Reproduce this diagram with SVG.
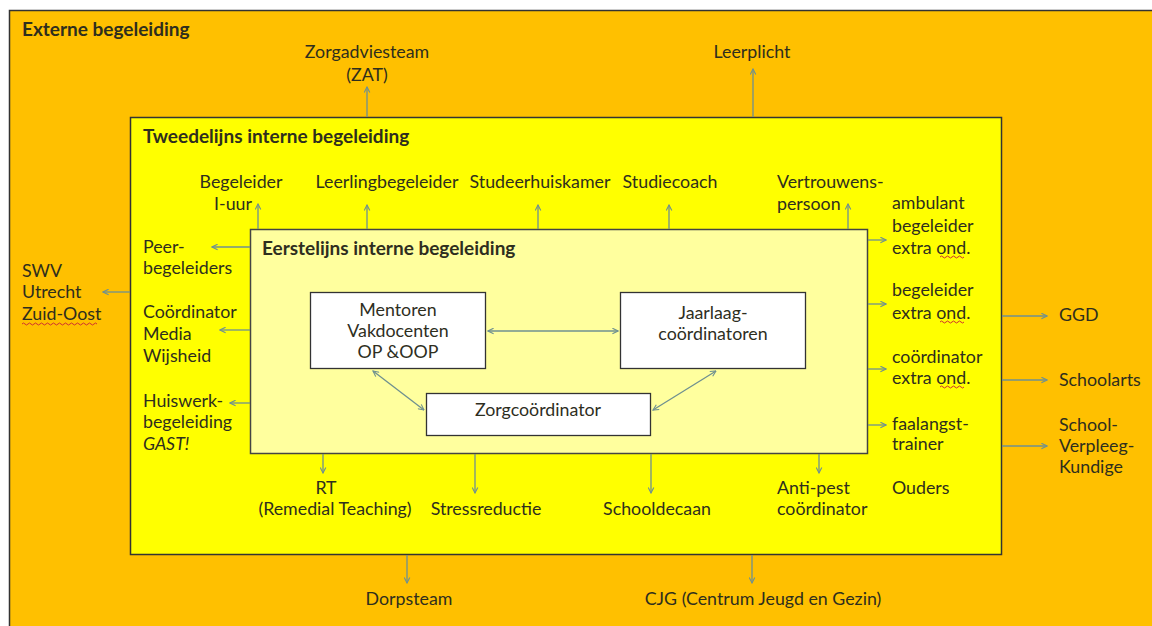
<svg xmlns="http://www.w3.org/2000/svg" width="1152" height="626" viewBox="0 0 1152 626">
<style>
text{font-family:Lato,"Liberation Sans",sans-serif;font-size:17.8px;fill:#2e2e1e}
.b{font-weight:bold;font-size:19px}
.c{text-anchor:middle}
.i{font-style:italic}
.con line{stroke:#6f9090;stroke-width:1.3;fill:none}
.sq{stroke:#d03030;stroke-width:1;fill:none}
</style>
<defs>
<marker id="ah" viewBox="0 0 10 10" refX="9" refY="5" markerWidth="7" markerHeight="7" markerUnits="userSpaceOnUse" orient="auto-start-reverse">
<path d="M1,1 L9,5 L1,9" fill="none" stroke="#6f9090" stroke-width="1.6"/>
</marker>
</defs>
<rect width="1152" height="626" fill="#ffffff"/>
<g id="externe">
<rect x="9.5" y="10.5" width="1160" height="640" fill="#FFC000" stroke="#333" stroke-width="1.5"/>
<text x="22" y="36" class="b">Externe begeleiding</text>
</g>
<g id="tweedelijns">
<rect x="130.5" y="117.5" width="871" height="437" fill="#FFFF00" stroke="#333" stroke-width="1.5"/>
<text x="143" y="143" class="b">Tweedelijns interne begeleiding</text>
</g>
<g id="eerstelijns">
<rect x="250.5" y="229.5" width="617" height="224" fill="#FFFF9E" stroke="#444" stroke-width="1.5"/>
<text x="262" y="255" class="b">Eerstelijns interne begeleiding</text>
</g>
<g id="mentoren">
<rect x="310.5" y="292.5" width="175" height="76" fill="#fff" stroke="#333" stroke-width="1.3"/>
<text x="398" y="316" class="c">Mentoren</text>
<text x="398" y="337" class="c">Vakdocenten</text>
<text x="398" y="358" class="c">OP &amp;OOP</text>
</g>
<g id="jaarlaag">
<rect x="620.5" y="292.5" width="185" height="76" fill="#fff" stroke="#333" stroke-width="1.3"/>
<text x="713" y="319" class="c">Jaarlaag-</text>
<text x="713" y="340" class="c">coördinatoren</text>
</g>
<g id="zorgcoordinator">
<rect x="426.5" y="393.5" width="224" height="42" fill="#fff" stroke="#333" stroke-width="1.3"/>
<text x="538" y="416" class="c">Zorgcoördinator</text>
</g>
<g id="zat"><text x="367" y="58" class="c">Zorgadviesteam</text><text x="367" y="81" class="c">(ZAT)</text></g>
<g id="leerplicht"><text x="752" y="58" class="c">Leerplicht</text></g>
<g id="begeleider-iuur"><text x="241" y="188" class="c">Begeleider</text><text x="233" y="210" class="c">I-uur</text></g>
<g id="leerlingbegeleider"><text x="387" y="188" class="c">Leerlingbegeleider</text></g>
<g id="studeerhuiskamer"><text x="540" y="188" class="c">Studeerhuiskamer</text></g>
<g id="studiecoach"><text x="670" y="188" class="c">Studiecoach</text></g>
<g id="vertrouwenspersoon"><text x="777" y="188">Vertrouwens-</text><text x="777" y="210">persoon</text></g>
<g id="ambulant"><text x="892" y="209">ambulant</text><text x="892" y="232">begeleider</text><text x="892" y="254">extra ond.</text><path class="sq" d="M940,257 q1.5,-2 3,0 t3,0 t3,0 t3,0 t3,0 t3,0 t3,0 t3,0"/></g>
<g id="begeleider-extra"><text x="892" y="296">begeleider</text><text x="892" y="319">extra ond.</text><path class="sq" d="M940,322 q1.5,-2 3,0 t3,0 t3,0 t3,0 t3,0 t3,0 t3,0 t3,0"/></g>
<g id="coordinator-extra"><text x="892" y="363">coördinator</text><text x="892" y="384">extra ond.</text><path class="sq" d="M940,387 q1.5,-2 3,0 t3,0 t3,0 t3,0 t3,0 t3,0 t3,0 t3,0"/></g>
<g id="faalangst"><text x="892" y="430">faalangst-</text><text x="892" y="450">trainer</text></g>
<g id="ouders"><text x="892" y="494">Ouders</text></g>
<g id="ggd"><text x="1059" y="321">GGD</text></g>
<g id="schoolarts"><text x="1059" y="386">Schoolarts</text></g>
<g id="verpleegkundige"><text x="1059" y="431">School-</text><text x="1059" y="452">Verpleeg-</text><text x="1059" y="473">Kundige</text></g>
<g id="swv"><text x="22" y="277">SWV</text><text x="22" y="298">Utrecht</text><text x="22" y="320">Zuid-Oost</text><path class="sq" d="M22,324 q1.5,-2 3,0 t3,0 t3,0 t3,0 t3,0 t3,0 t3,0 t3,0 t3,0 t3,0 t3,0 t3,0 t3,0 t3,0 t3,0 t3,0 t3,0 t3,0 t3,0 t3,0 t3,0 t3,0 t3,0 t3,0 t3,0"/></g>
<g id="peer"><text x="143" y="253">Peer-</text><text x="143" y="274">begeleiders</text></g>
<g id="mediawijsheid"><text x="143" y="318">Coördinator</text><text x="143" y="340">Media</text><text x="143" y="362">Wijsheid</text></g>
<g id="huiswerk"><text x="143" y="407">Huiswerk-</text><text x="143" y="428">begeleiding</text><text x="143" y="450" class="i">GAST!</text></g>
<g id="rt"><text x="326" y="494" class="c">RT</text><text x="335" y="515" class="c">(Remedial Teaching)</text></g>
<g id="stressreductie"><text x="486" y="515" class="c">Stressreductie</text></g>
<g id="schooldecaan"><text x="657" y="515" class="c">Schooldecaan</text></g>
<g id="antipest"><text x="777" y="494">Anti-pest</text><text x="777" y="515">coördinator</text></g>
<g id="dorpsteam"><text x="409" y="605" class="c">Dorpsteam</text></g>
<g id="cjg"><text x="763" y="605" class="c">CJG (Centrum Jeugd en Gezin)</text></g>
<g class="con" id="connectors">
<line x1="367" y1="117" x2="367" y2="87" marker-end="url(#ah)"/>
<line x1="753" y1="117" x2="753" y2="69" marker-end="url(#ah)"/>
<line x1="258" y1="229" x2="258" y2="204" marker-end="url(#ah)"/>
<line x1="367" y1="229" x2="367" y2="205" marker-end="url(#ah)"/>
<line x1="538" y1="229" x2="538" y2="205" marker-end="url(#ah)"/>
<line x1="669" y1="229" x2="669" y2="205" marker-end="url(#ah)"/>
<line x1="848" y1="229" x2="848" y2="204" marker-end="url(#ah)"/>
<line x1="868" y1="240" x2="886" y2="240" marker-end="url(#ah)"/>
<line x1="868" y1="304" x2="886" y2="304" marker-end="url(#ah)"/>
<line x1="868" y1="369" x2="886" y2="369" marker-end="url(#ah)"/>
<line x1="868" y1="425" x2="886" y2="425" marker-end="url(#ah)"/>
<line x1="1002" y1="316" x2="1047" y2="316" marker-end="url(#ah)"/>
<line x1="1002" y1="380" x2="1047" y2="380" marker-end="url(#ah)"/>
<line x1="1002" y1="446" x2="1047" y2="446" marker-end="url(#ah)"/>
<line x1="130" y1="292" x2="103" y2="292" marker-end="url(#ah)"/>
<line x1="250" y1="247" x2="212" y2="247" marker-end="url(#ah)"/>
<line x1="250" y1="330" x2="220" y2="330" marker-end="url(#ah)"/>
<line x1="250" y1="403" x2="230" y2="403" marker-end="url(#ah)"/>
<line x1="323" y1="454" x2="323" y2="473" marker-end="url(#ah)"/>
<line x1="475" y1="454" x2="475" y2="493" marker-end="url(#ah)"/>
<line x1="651" y1="454" x2="651" y2="493" marker-end="url(#ah)"/>
<line x1="819" y1="454" x2="819" y2="473" marker-end="url(#ah)"/>
<line x1="407" y1="555" x2="407" y2="583" marker-end="url(#ah)"/>
<line x1="752" y1="555" x2="752" y2="583" marker-end="url(#ah)"/>
<line x1="488" y1="331" x2="618" y2="331" marker-start="url(#ah)" marker-end="url(#ah)"/>
<line x1="373" y1="371" x2="424" y2="410" marker-start="url(#ah)" marker-end="url(#ah)"/>
<line x1="716" y1="371" x2="653" y2="410" marker-start="url(#ah)" marker-end="url(#ah)"/>
</g>
</svg>
